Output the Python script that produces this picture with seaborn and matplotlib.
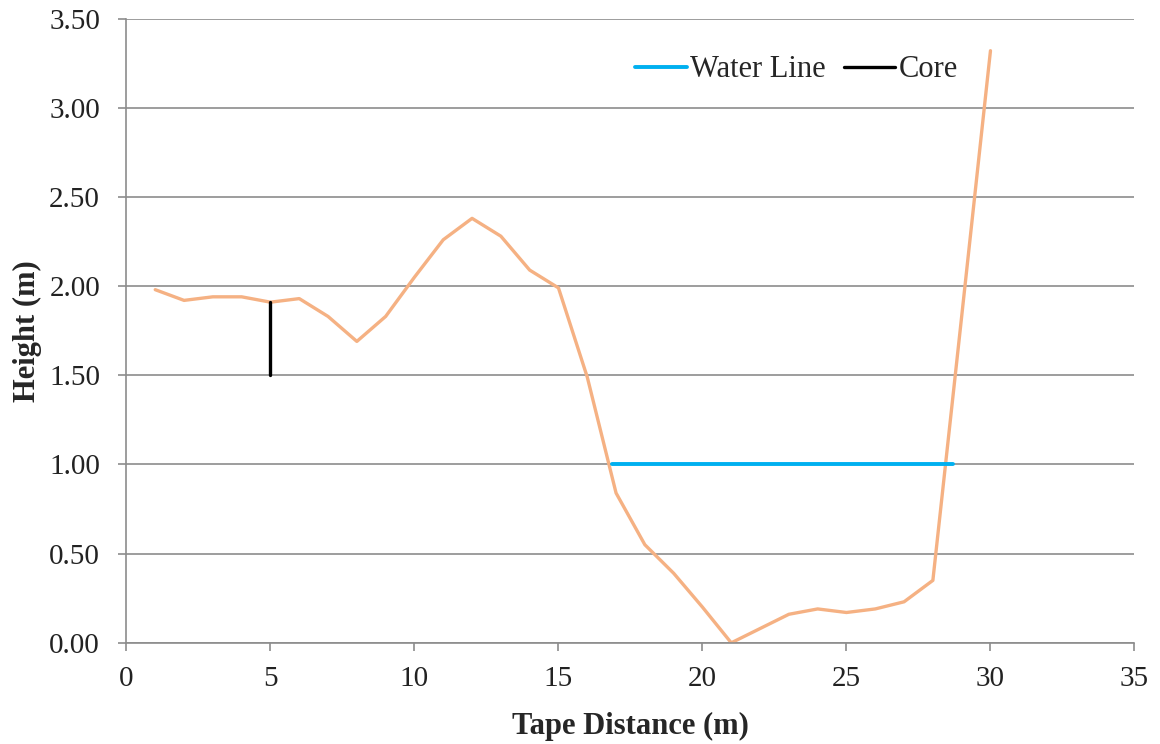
import pandas as pd
import matplotlib.pyplot as plt
import seaborn as sns

# Cross-section profile readings
distance = list(range(1, 31))
height = [1.98, 1.92, 1.94, 1.94, 1.91, 1.93, 1.83, 1.69, 1.83, 2.05,
          2.26, 2.38, 2.28, 2.09, 1.99, 1.49, 0.84, 0.55, 0.39, 0.20,
          0.00, 0.08, 0.16, 0.19, 0.17, 0.19, 0.23, 0.35, 1.83, 3.32]

# Water line and core
water_x = [16.85, 28.7]
water_y = [1.0, 1.0]
core_x = [5, 5]
core_y = [1.50, 1.91]

profile = pd.DataFrame({'Tape Distance (m)': distance, 'Height (m)': height})
water = pd.DataFrame({'x': water_x, 'y': water_y})
core = pd.DataFrame({'x': core_x, 'y': core_y})

sns.set_style('white')
plt.rcParams['font.family'] = ['Liberation Serif', 'DejaVu Serif']

fig = plt.figure(figsize=(11.6, 7.44), dpi=100)
ax = fig.add_axes([0.109, 0.136, 0.869, 0.839])

grey = '#8c8c8c'
ax.set_axisbelow(True)
ax.yaxis.grid(True, color=grey, linewidth=1.2)

sns.lineplot(data=profile, x='Tape Distance (m)', y='Height (m)', ax=ax,
             color='#F5B183', linewidth=2.4, estimator=None)
sns.lineplot(data=water, x='x', y='y', ax=ax, color='#00B0F0',
             linewidth=2.8, label='Water Line', estimator=None)
sns.lineplot(data=core, x='x', y='y', ax=ax, color='black',
             linewidth=2.4, label='Core', estimator=None, sort=False)

ax.set_xlim(0, 35)
ax.set_ylim(0, 3.5)
ax.set_xticks(range(0, 36, 5))
ax.set_yticks([i * 0.5 for i in range(8)])
ax.set_yticklabels([f'{i * 0.5:.2f}' for i in range(8)])

for side in ['top', 'right']:
    ax.spines[side].set_visible(False)
for side in ['left', 'bottom']:
    ax.spines[side].set_color(grey)
    ax.spines[side].set_linewidth(1.2)

ax.tick_params(axis='both', labelsize=21, labelcolor='#222222', length=6,
               width=1.2, color=grey, direction='out', left=True, bottom=True)
ax.tick_params(axis='x', pad=11)
ax.tick_params(axis='y', pad=13)

ax.set_xlabel('Tape Distance (m)', fontsize=22, fontweight='bold', labelpad=14)
ax.set_ylabel('Height (m)', fontsize=22, fontweight='bold', labelpad=5)

ax.legend(loc='upper right', bbox_to_anchor=(0.852, 0.985), ncol=2,
          frameon=False, fontsize=22, handlelength=1.7, handletextpad=0.1,
          columnspacing=0.6)

fig.savefig('out.png', dpi=100)
